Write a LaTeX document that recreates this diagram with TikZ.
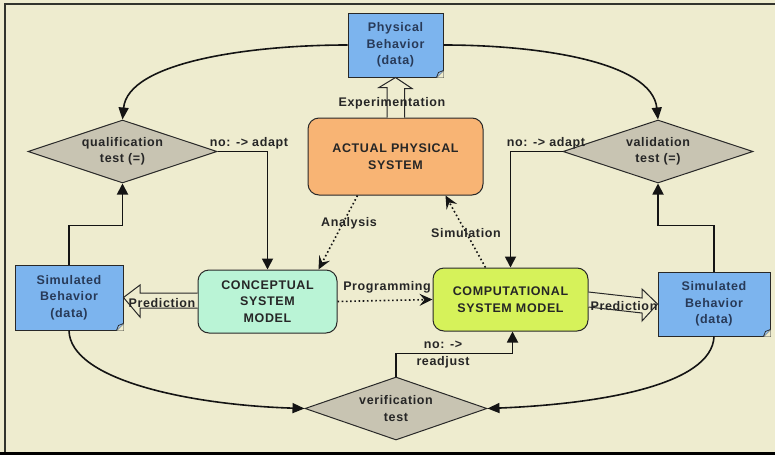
\documentclass[tikz,border=0pt]{standalone}
\usepackage{fontspec}
\setmainfont{Liberation Sans}[LetterSpace=5]
\usetikzlibrary{arrows.meta,shapes.geometric,calc}
\definecolor{bgc}{RGB}{238,236,207}
\definecolor{framec}{RGB}{50,52,45}
\definecolor{docblue}{RGB}{124,180,238}
\definecolor{doctext}{RGB}{40,58,88}
\definecolor{orangec}{RGB}{248,180,116}
\definecolor{mintc}{RGB}{186,244,214}
\definecolor{limec}{RGB}{214,242,90}
\definecolor{diamc}{RGB}{200,196,178}
\definecolor{linec}{RGB}{20,20,20}
\definecolor{edgec}{RGB}{40,40,40}
\tikzset{
  txt/.style={font=\bfseries\fontsize{12.5}{16.5}\selectfont, text=black!85},
  docbox/.style={rectangle, draw=edgec, line width=1pt, fill=docblue, inner sep=0pt,
    align=center, txt, text=doctext},
  sysbox/.style={rectangle, rounded corners=11pt, draw=edgec, line width=1pt, inner sep=0pt,
    align=center, txt},
  testbox/.style={diamond, aspect=3, draw=edgec, line width=1pt, fill=diamc, inner sep=0pt,
    align=center, txt},
  lbl/.style={txt, inner sep=0pt},
  flow/.style={draw=linec, line width=1.8pt, -{Triangle[length=11pt,width=11pt]}},
  curv/.style={draw=linec, line width=1.6pt, -{Triangle[length=12pt,width=10pt]}},
  dots/.style={draw=linec, line width=1.6pt, dash pattern=on 1.6pt off 2.6pt,
    -{Stealth[length=13pt,width=12pt,inset=5pt]}},
  hollowfill/.style={fill=bgc},
  hollowline/.style={draw=edgec, line width=1pt, line join=miter},
}
\newcommand{\foldcorner}[1]{%
  \fill[bgc] (#1.south east) -- ([xshift=-7pt]#1.south east) -- ([yshift=7pt]#1.south east) -- cycle;
  \draw[edgec, line width=1pt] ([xshift=-7pt]#1.south east) -- ([yshift=7pt]#1.south east);
  \draw[edgec, line width=0.8pt, fill=docblue!70!white] ([xshift=-7pt]#1.south east) -- ([xshift=-5pt,yshift=5pt]#1.south east) -- ([yshift=7pt]#1.south east);
}
\begin{document}
\begin{tikzpicture}[x=1pt,y=-1pt]
\useasboundingbox (0,0) rectangle (775,455);
\fill[bgc] (0,0) rectangle (775,455);
\fill[black] (0,452) rectangle (775,455);
\draw[framec, line width=2.5pt] (5,452) -- (5,4) -- (775,4);

% nodes
\node[docbox, minimum width=95pt, minimum height=64pt] (pb) at (395.5,45) {Physical\\Behavior\\(data)};
\node[sysbox, fill=orangec, minimum width=175pt, minimum height=77pt] (aps) at (395.5,156.5) {ACTUAL PHYSICAL\\SYSTEM};
\node[testbox, minimum width=189pt, minimum height=63pt] (qt) at (122.5,151.5) {qualification\\test (=)};
\node[testbox, minimum width=190pt, minimum height=63pt] (vt) at (658,151.5) {validation\\test (=)};
\node[sysbox, fill=mintc, minimum width=139pt, minimum height=63pt] (csm) at (267.5,301.5) {CONCEPTUAL\\SYSTEM\\MODEL};
\node[sysbox, fill=limec, minimum width=155pt, minimum height=63pt] (cmp) at (510.5,299.5) {COMPUTATIONAL\\SYSTEM MODEL};
\node[docbox, minimum width=108pt, minimum height=65pt] (lsb) at (69,297.5) {Simulated\\Behavior\\(data)};
\node[docbox, minimum width=112pt, minimum height=64pt] (rsb) at (714,304) {Simulated\\Behavior\\(data)};
\node[testbox, minimum width=182pt, minimum height=63pt] (ver) at (396,408.5) {verification\\test};
\foldcorner{pb}
\foldcorner{lsb}
\foldcorner{rsb}

% curved connectors
\draw[curv] (pb.west) .. controls (250,45) and (128,62) .. (qt.north);
\draw[curv] (pb.east) .. controls (540,45) and (652,62) .. (vt.north);
\draw[curv] (lsb.south) .. controls (70,380) and (190,405) .. (ver.west);
\draw[curv] (rsb.south) .. controls (712,385) and (600,404) .. (ver.east);

% orthogonal connectors
\draw[flow] (lsb.north) -- ++(0,-39) -| (qt.south);
\draw[flow] (rsb.north) -- ++(0,-46) -| (vt.south);
\draw[flow] (qt.east) -| (csm.north);
\draw[flow] (vt.west) -| (cmp.north);
\draw[flow] (ver.north) -- ++(0,-23) -| ([xshift=2pt]cmp.south);
\node[lbl] (lq) at (249,143) {no: -> adapt};
\node[lbl] (lv) at (546,143) {no: -> adapt};
\node[lbl] (lr1) at (443,345) {no: ->};
\node[lbl] (lr2) at (443,362) {readjust};

% dotted connectors
\draw[dots] (csm.east) -- (cmp.west);
\draw[dots] ([xshift=-38pt]aps.south) -- ([xshift=51pt]csm.north);
\draw[dots] ([xshift=-25pt]cmp.north) -- ([xshift=50pt]aps.south);
\node[lbl] (lprog) at (387,287) {Programming};
\node[lbl] (lana) at (349,223) {Analysis};
\node[lbl] (lsim) at (466,233) {Simulation};

% hollow arrows: fill, label, then outline over the label
\fill[hollowfill] ([xshift=-8.5pt]aps.north) -- ++(0,-30) -- ++(-8,0) -- (pb.south) -- ([xshift=16.5pt,yshift=-11pt]pb.south) -- ([xshift=9pt,yshift=-11pt]pb.south) -- ([xshift=9pt]aps.north) -- cycle;
\fill[hollowfill] ([yshift=8.5pt]csm.west) -- (140,293) -- (140,285) -- (lsb.east) -- (140,317) -- (140,308) -- ([yshift=-6.5pt]csm.west) -- cycle;
\fill[hollowfill] ([yshift=7.5pt]cmp.east) -- (642,298) -- (642,289) -- (rsb.west) -- (642,321) -- (642,313) -- ([yshift=-7.5pt]cmp.east) -- cycle;
\node[lbl] (lexp) at (392,103) {Experimentation};
\node[lbl] (lpl) at (162,303) {Prediction};
\node[lbl] (lpr) at (624,306) {Prediction};
\draw[hollowline] ([xshift=-8.5pt]aps.north) -- ++(0,-30) -- ++(-8,0) -- (pb.south) -- ([xshift=16.5pt,yshift=-11pt]pb.south) -- ([xshift=9pt,yshift=-11pt]pb.south) -- ([xshift=9pt]aps.north);
\draw[hollowline] ([yshift=8.5pt]csm.west) -- (140,293) -- (140,285) -- (lsb.east) -- (140,317) -- (140,308) -- ([yshift=-6.5pt]csm.west);
\draw[hollowline] ([yshift=7.5pt]cmp.east) -- (642,298) -- (642,289) -- (rsb.west) -- (642,321) -- (642,313) -- ([yshift=-7.5pt]cmp.east);
\end{tikzpicture}
\end{document}
